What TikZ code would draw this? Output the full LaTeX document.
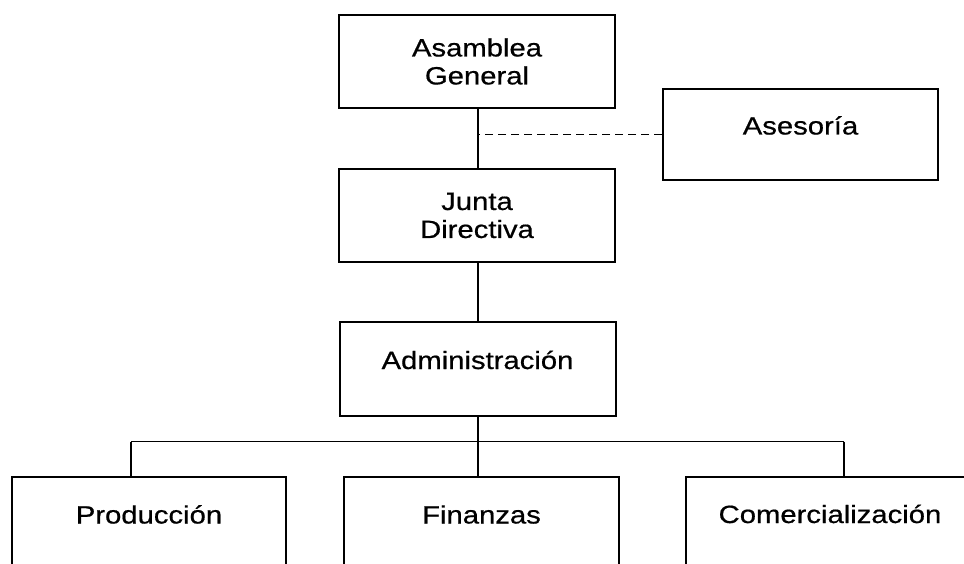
\documentclass[tikz,border=0pt]{standalone}
\usepackage{fontspec}
\setmainfont{Liberation Sans}[FakeStretch=1.17,FakeBold=0.6]
\tikzset{bx/.append style={draw,rectangle,line width=2pt,minimum width=276pt,minimum height=93pt,inner sep=2pt,align=center,font=\fontsize{25}{28}\selectfont}}
\tikzset{un/.append style={text height=9pt,text depth=9pt}}
\tikzset{ln/.append style={line width=1.9pt}}

\begin{document}
\begin{tikzpicture}[x=1pt,y=1pt]
                \useasboundingbox (0,0) rectangle (964,563);
                % cajas
                \node[bx] (asamblea) at (477,501.5) {Asamblea\\General};
                \node[bx,un,minimum width=275pt,minimum height=91pt] (asesoria) at (800.5,428.5) {Asesoría};
                \node[bx] (junta) at (477,347.5) {Junta\\Directiva};
                \node[bx,un] (admin) at (477.5,194) {Administración};
                \node[bx,un,minimum width=274pt] (produccion) at (149,39.5) {Producción};
                \node[bx,un,minimum width=275pt] (finanzas) at (481.5,39.5) {Finanzas};
                \node[bx,un,minimum width=288pt] (comercial) at (830,40) {Comercialización};
                \coordinate (eje) at (478,121.5);
                \coordinate (bi) at (131,121.5);
                \coordinate (bd) at (844,121.5);
                % lineas
                \draw[ln] (eje |- asamblea.south) -- (eje |- junta.north);
                \draw[ln,dash pattern=on 8pt off 5pt] (asesoria.west) -- (asesoria.west -| eje);
                \draw[ln] (eje |- junta.south) -- (eje |- admin.north);
                \draw[ln] (eje |- admin.south) -- (eje);
                \draw[ln] (bi) -- (bd);
                \draw[ln] (bi) -- (bi |- produccion.north);
                \draw[ln] (eje) -- (eje |- finanzas.north);
                \draw[ln] (bd) -- (bd |- comercial.north);
            \end{tikzpicture}
\end{document}
